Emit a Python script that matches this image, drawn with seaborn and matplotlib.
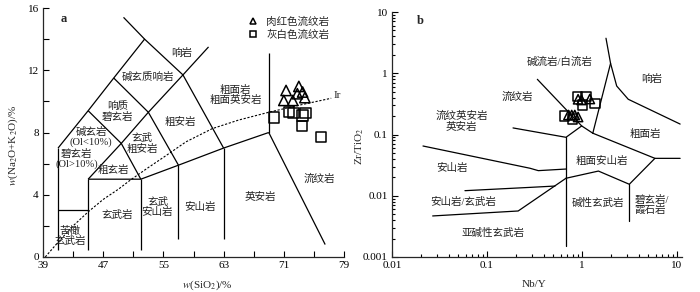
import numpy as np
import matplotlib
matplotlib.use("Agg")
import matplotlib.pyplot as plt
import matplotlib.ticker as mticker
import seaborn as sns
import pandas as pd

# --- sample data, panel a (TAS) ---
red_sio2 = [71.3, 71.0, 72.2, 73.0, 72.8, 73.5, 73.8]
red_alk = [10.7, 10.06, 10.06, 10.96, 10.49, 10.6, 10.24]
grey_sio2 = [69.7, 71.7, 72.3, 73.5, 73.9, 73.4, 75.9]
grey_alk = [8.96, 9.31, 9.25, 9.1, 9.25, 8.4, 7.71]

# --- sample data, panel b (Zr/TiO2 vs Nb/Y) ---
red_nby = [0.91, 0.99, 1.21, 0.72, 0.78, 0.84, 0.91]
red_zrti = [0.376, 0.366, 0.38, 0.208, 0.208, 0.208, 0.193]
grey_nby = [0.89, 1.10, 1.02, 1.37, 0.65, 0.80]
grey_zrti = [0.414, 0.414, 0.303, 0.323, 0.20, 0.179]

legend_names = ["肉红色流纹岩", "灰白色流纹岩"]

# TAS field boundaries (SiO2, Na2O+K2O)
tas_lines = [
    ([41, 41], [0.45, 7]),
    ([41, 45, 48.4, 52.5, 57.6, 61], [7, 9.4, 11.5, 14, 11.7, 13.5]),
    ([52.5, 49.7], [14, 15.4]),
    ([41, 45], [3, 3]),
    ([45, 45], [0.45, 5]),
    ([45, 52, 57, 63, 69], [5, 5, 5.9, 7, 8]),
    ([52, 52], [0.45, 5]),
    ([57, 57], [1.15, 5.9]),
    ([63, 63], [1.15, 7]),
    ([45, 49.4, 45], [9.4, 7.3, 5]),
    ([52, 49.4, 53, 57.6], [5, 7.3, 9.3, 11.7]),
    ([48.4, 53, 57], [11.5, 9.3, 5.9]),
    ([57.6, 63], [11.7, 7]),
    ([69, 69], [8, 13.1]),
    ([69, 76.5], [8, 0.8]),
]
ir_sio2 = [39.3, 41, 43, 45, 47, 49, 50.6, 53, 55, 58, 61.5, 65, 69, 73, 77.3]
ir_alk = [0, 0.95, 2.0, 2.9, 3.7, 4.35, 4.94, 5.75, 6.4, 7.4, 8.25, 8.8, 9.3, 9.75, 10.2]

tas_text = [
    ("响岩", 57.4, 13.1), ("碱玄质响岩", 53.0, 11.6), ("响质\n碧玄岩", 48.9, 9.3),
    ("碱玄岩\n(Ol<10%)", 45.4, 7.7), ("碧玄岩\n(Ol>10%)", 43.5, 6.3),
    ("粗玄岩", 48.4, 5.58), ("玄武\n粗安岩", 52.2, 7.3), ("粗安岩", 57.3, 8.67),
    ("粗面岩\n粗面英安岩", 64.6, 10.4), ("玄武岩", 48.8, 2.7), ("苦橄\n玄武岩", 42.6, 1.35),
    ("玄武\n安山岩", 54.2, 3.2), ("安山岩", 59.9, 3.22), ("英安岩", 67.9, 3.87),
    ("流纹岩", 75.7, 5.04),
]

# Winchester & Floyd field boundaries (Nb/Y, Zr/TiO2)
wf_lines = [
    ([0.0212, 0.284, 0.347, 0.679], [0.0649, 0.0281, 0.0257, 0.0273]),
    ([0.188, 0.679, 0.993], [0.128, 0.090, 0.138]),
    ([0.679, 0.679], [0.090, 0.0015]),
    ([0.339, 0.993, 1.30], [0.796, 0.138, 0.105]),
    ([1.30, 2.0, 1.79], [0.105, 1.45, 3.73]),
    ([2.0, 2.32, 3.07, 10.8], [1.45, 0.619, 0.376, 0.148]),
    ([1.30, 5.86, 10.8], [0.105, 0.0408, 0.0408]),
    ([0.0586, 0.284, 0.52], [0.0121, 0.0137, 0.0144]),
    ([0.0268, 0.213, 0.679], [0.00468, 0.00564, 0.0193]),
    ([0.679, 1.49, 3.15, 5.86], [0.0193, 0.0253, 0.0154, 0.0408]),
    ([3.15, 3.15], [0.0154, 0.00387]),
]
wf_text = [
    ("碱流岩/白流岩", 0.586, 1.55, "center"), ("响岩", 5.42, 0.796, "center"),
    ("流纹岩", 0.207, 0.409, "center"), ("流纹英安岩\n英安岩", 0.0542, 0.164, "center"),
    ("粗面岩", 4.6, 0.102, "center"), ("粗面安山岩", 1.61, 0.037, "center"),
    ("安山岩", 0.0425, 0.028, "center"), ("安山岩/玄武岩", 0.0564, 0.008, "center"),
    ("亚碱性玄武岩", 0.116, 0.0025, "center"), ("碱性玄武岩", 1.49, 0.00753, "center"),
    ("碧玄岩/\n霞石岩", 3.55, 0.0071, "left"),
]

sns.set_theme(style="ticks")
plt.rcParams["font.family"] = ["Liberation Serif", "Noto Sans CJK SC"]
plt.rcParams["mathtext.fontset"] = "stix"
plt.rcParams["axes.linewidth"] = 0.9

fig = plt.figure(figsize=(7, 2.92), dpi=100)
ax1 = fig.add_axes([43 / 700, 1 - 257 / 292, 301 / 700, 249 / 292])
ax2 = fig.add_axes([392 / 700, 1 - 257 / 292, 290 / 700, 245 / 292])

lw = 0.9
zh = dict(fontsize=7.6, color="#222222", linespacing=1.05)

# ---- panel a ----
for xs, ys in tas_lines:
    ax1.plot(xs, ys, color="black", lw=lw, solid_capstyle="butt")
ax1.plot(ir_sio2, ir_alk, color="black", lw=0.8, ls=(0, (2, 1.5)))
ax1.text(77.6, 10.35, "Ir", fontsize=8, va="center", ha="left")
for t, x, y in tas_text:
    ax1.text(x, y, t, ha="center", va="center", **zh)

dfa = pd.DataFrame({
    "SiO2": red_sio2 + grey_sio2,
    "alk": red_alk + grey_alk,
    "type": [legend_names[0]] * len(red_sio2) + [legend_names[1]] * len(grey_sio2),
})
sns.scatterplot(data=dfa, x="SiO2", y="alk", style="type", markers={legend_names[0]: "^", legend_names[1]: "s"},
                s=55, facecolor="none", edgecolor="black", linewidth=1.1, ax=ax1, legend=True, zorder=3)
ax1.legend(loc="upper right", bbox_to_anchor=(0.975, 0.995), frameon=False, fontsize=7.6,
           handletextpad=0.2, markerscale=0.6, labelspacing=0.25, borderpad=0.2)

ax1.set_xlim(39, 79)
ax1.set_ylim(0, 16)
ax1.xaxis.set_major_locator(mticker.FixedLocator(np.arange(39, 80, 8)))
ax1.xaxis.set_minor_locator(mticker.FixedLocator(np.arange(43, 80, 8)))
ax1.yaxis.set_major_locator(mticker.MultipleLocator(4))
ax1.yaxis.set_minor_locator(mticker.MultipleLocator(2))
ax1.set_xlabel("$w$(SiO$_2$)/%", fontsize=8)
ax1.set_ylabel("$w$(Na$_2$O+K$_2$O)/%", fontsize=8)
ax1.xaxis.set_label_coords(0.545, -0.085)
ax1.yaxis.set_label_coords(-0.075, 0.45)
ax1.text(41.3, 15.3, "a", fontsize=9, fontweight="bold", va="center")

# ---- panel b ----
for xs, ys in wf_lines:
    ax2.plot(xs, ys, color="black", lw=lw)
for t, x, y, ha in wf_text:
    ax2.text(x, y, t, ha=ha, va="center", **zh)

dfb = pd.DataFrame({
    "NbY": red_nby + grey_nby,
    "ZrTi": red_zrti + grey_zrti,
    "type": [legend_names[0]] * len(red_nby) + [legend_names[1]] * len(grey_nby),
})
sns.scatterplot(data=dfb, x="NbY", y="ZrTi", style="type", markers={legend_names[0]: "^", legend_names[1]: "s"},
                s=45, facecolor="none", edgecolor="black", linewidth=1.1, ax=ax2, legend=False, zorder=3)

ax2.set_xscale("log")
ax2.set_yscale("log")
ax2.set_xlim(0.01, 11.3)
ax2.set_ylim(0.001, 10)
ax2.xaxis.set_major_locator(mticker.FixedLocator([0.01, 0.1, 1, 10]))
ax2.yaxis.set_major_locator(mticker.FixedLocator([0.001, 0.01, 0.1, 1, 10]))
fmt = mticker.FuncFormatter(lambda v, p: ("%g" % v))
ax2.xaxis.set_major_formatter(fmt)
ax2.yaxis.set_major_formatter(fmt)
ax2.xaxis.set_minor_locator(mticker.LogLocator(base=10, subs=np.arange(2, 10)))
ax2.yaxis.set_minor_locator(mticker.LogLocator(base=10, subs=np.arange(2, 10)))
ax2.xaxis.set_minor_formatter(mticker.NullFormatter())
ax2.yaxis.set_minor_formatter(mticker.NullFormatter())
ax2.set_xlabel("Nb/Y", fontsize=8)
ax2.set_ylabel("Zr/TiO$_2$", fontsize=8)
ax2.xaxis.set_label_coords(0.49, -0.095)
ax2.yaxis.set_label_coords(-0.09, 0.45)
ax2.text(0.0182, 7.0, "b", fontsize=9, fontweight="bold", va="center")

for ax in (ax1, ax2):
    sns.despine(ax=ax)
    ax.tick_params(which="both", direction="in", labelsize=8, width=0.8, colors="black", pad=3)
    ax.tick_params(which="major", length=4)
    ax.tick_params(which="minor", length=2.5 if ax is ax2 else 4)
    ax.grid(False)

fig.savefig("out.png", dpi=100)
